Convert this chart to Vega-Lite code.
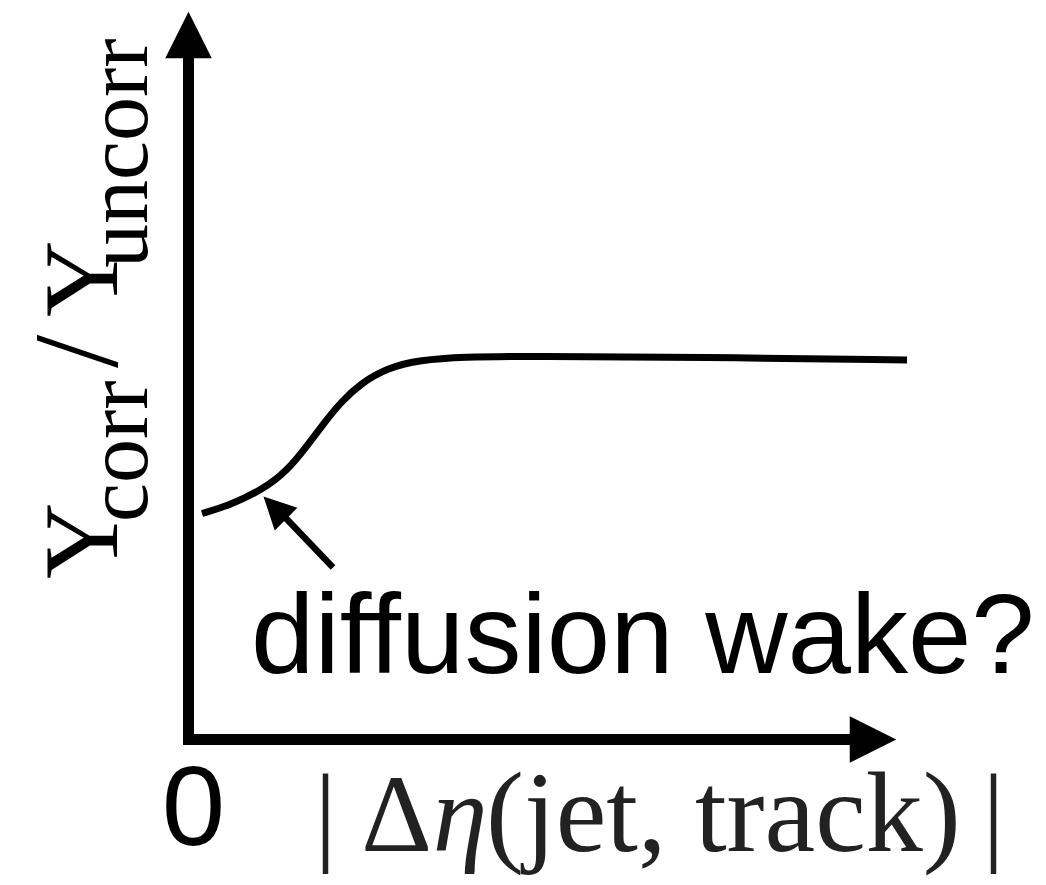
{
  "$schema": "https://vega.github.io/schema/vega-lite/v6.json",
  "width": 1046,
  "height": 885,
  "padding": 0,
  "autosize": {"type": "fit", "contains": "padding"},
  "background": "white",
  "config": {"view": {"stroke": null}},
  "encoding": {
    "x": {"field": "x", "type": "quantitative", "axis": null,
          "scale": {"domain": [-1.885, 8.575], "nice": false, "zero": false}},
    "y": {"field": "y", "type": "quantitative", "axis": null,
          "scale": {"domain": [-1.455, 7.395], "nice": false, "zero": false}}
  },
  "layer": [
    {
      "description": "schematic yield ratio versus |delta eta|",
      "data": {"values": [
        {"x": 0.135, "y": 2.26},
        {"x": 0.415, "y": 2.345},
        {"x": 0.735, "y": 2.495},
        {"x": 0.985, "y": 2.685},
        {"x": 1.185, "y": 2.935},
        {"x": 1.355, "y": 3.165},
        {"x": 1.525, "y": 3.375},
        {"x": 1.715, "y": 3.555},
        {"x": 1.985, "y": 3.715},
        {"x": 2.315, "y": 3.795},
        {"x": 2.745, "y": 3.825},
        {"x": 3.415, "y": 3.835},
        {"x": 5.115, "y": 3.822},
        {"x": 7.185, "y": 3.795}
      ]},
      "mark": {"type": "line", "color": "black", "strokeWidth": 7, "interpolate": "basis", "strokeCap": "butt"}
    },
    {
      "description": "axis lines",
      "data": {"values": [
        {"x": 0, "y": -0.055, "x2": 0, "y2": 6.9},
        {"x": -0.055, "y": 0, "x2": 6.67, "y2": 0}
      ]},
      "mark": {"type": "rule", "color": "black", "strokeWidth": 11, "strokeCap": "butt"},
      "encoding": {"x2": {"field": "x2"}, "y2": {"field": "y2"}}
    },
    {
      "description": "annotation arrow shaft",
      "data": {"values": [{"x": 1.445, "y": 1.72, "x2": 0.915, "y2": 2.275}]},
      "mark": {"type": "rule", "color": "black", "strokeWidth": 6.5, "strokeCap": "butt"},
      "encoding": {"x2": {"field": "x2"}, "y2": {"field": "y2"}}
    },
    {
      "description": "arrowhead of the vertical axis",
      "data": {"values": [{"x": 0, "y": 7.045}]},
      "mark": {"type": "point", "shape": "M0,-1L1,1L-1,1Z", "size": 2160, "filled": true, "color": "black", "opacity": 1, "strokeWidth": 0}
    },
    {
      "description": "arrowhead of the horizontal axis",
      "data": {"values": [{"x": 6.845, "y": 0}]},
      "mark": {"type": "point", "shape": "M0,-1L1,1L-1,1Z", "angle": 90, "size": 2160, "filled": true, "color": "black", "opacity": 1, "strokeWidth": 0}
    },
    {
      "description": "annotation arrowhead",
      "data": {"values": [{"x": 0.8625, "y": 2.3175}]},
      "mark": {"type": "point", "shape": "M0,-1L1,1L-1,1Z", "angle": 315, "size": 1024, "filled": true, "color": "black", "opacity": 1, "strokeWidth": 0}
    },
    {
      "data": {"values": [
        {"x": 0.625, "y": 0.665, "label": "diffusion wake?"}
      ]},
      "mark": {"type": "text", "font": "Liberation Sans", "fontSize": 114, "align": "left", "baseline": "alphabetic", "color": "black"},
      "encoding": {"text": {"field": "label"}}
    },
    {
      "data": {"values": [
        {"x": 0.05, "y": -1.055, "label": "0"}
      ]},
      "mark": {"type": "text", "font": "Liberation Sans", "fontSize": 114, "align": "center", "baseline": "alphabetic", "color": "black"},
      "encoding": {"text": {"field": "label"}}
    },
    {
      "description": "x title, upright single glyphs",
      "data": {"values": [
        {"x": 1.37, "y": -1.115, "label": "|"},
        {"x": 2.08, "y": -1.115, "label": "Δ"},
        {"x": 8.05, "y": -1.115, "label": "|"}
      ]},
      "mark": {"type": "text", "font": "Liberation Serif", "fontSize": 110, "align": "center", "baseline": "alphabetic", "color": "#222222"},
      "encoding": {"text": {"field": "label"}}
    },
    {
      "description": "x title, italic eta",
      "data": {"values": [
        {"x": 2.715, "y": -1.115, "label": "η"}
      ]},
      "mark": {"type": "text", "font": "Liberation Serif", "fontStyle": "italic", "fontSize": 110, "align": "center", "baseline": "alphabetic", "color": "#222222"},
      "encoding": {"text": {"field": "label"}}
    },
    {
      "description": "x title, argument list",
      "data": {"values": [
        {"x": 2.975, "y": -1.115, "label": "(jet, track)"}
      ]},
      "mark": {"type": "text", "font": "Liberation Serif", "fontSize": 114, "align": "left", "baseline": "alphabetic", "color": "#222222"},
      "encoding": {"text": {"field": "label"}}
    },
    {
      "description": "y title, main symbols",
      "data": {"values": [
        {"x": -0.72, "y": 1.605, "label": "Y"},
        {"x": -0.72, "y": 4.225, "label": "Y"}
      ]},
      "mark": {"type": "text", "font": "Liberation Serif", "fontSize": 106, "angle": 270, "align": "left", "baseline": "alphabetic", "color": "black"},
      "encoding": {"text": {"field": "label"}}
    },
    {
      "description": "y title, fraction slash",
      "data": {"values": [
        {"x": -0.715, "y": 3.715, "label": "/"}
      ]},
      "mark": {"type": "text", "font": "Liberation Serif", "fontSize": 120, "angle": 270, "align": "left", "baseline": "alphabetic", "color": "black"},
      "encoding": {"text": {"field": "label"}}
    },
    {
      "description": "y title, subscripts",
      "data": {"values": [
        {"x": -0.415, "y": 2.175, "label": "corr"},
        {"x": -0.415, "y": 4.715, "label": "uncorr"}
      ]},
      "mark": {"type": "text", "font": "Liberation Serif", "fontSize": 88, "angle": 270, "align": "left", "baseline": "alphabetic", "color": "black"},
      "encoding": {"text": {"field": "label"}}
    }
  ]
}
